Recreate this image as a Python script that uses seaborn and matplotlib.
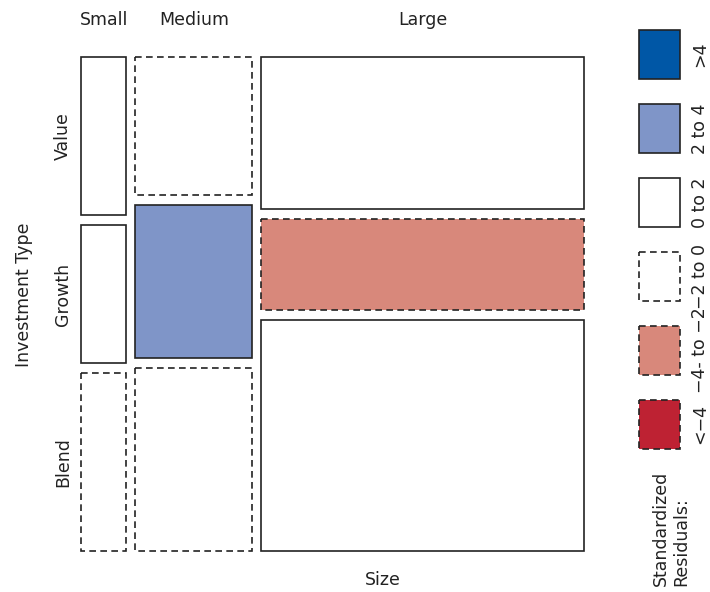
import matplotlib
matplotlib.use("Agg")
import matplotlib.pyplot as plt
import seaborn as sns
from matplotlib.patches import Rectangle

# mosaic data: counts of investment type within each fund size
sizes = ["Small", "Medium", "Large"]
inv_types = ["Value", "Growth", "Blend"]
small_counts = [16, 14, 18]
medium_counts = [36, 40, 48]
large_counts = [110, 65, 167]

# standardized (Pearson) residuals, read from the shading
small_resid = [0.6, 0.7, -0.9]
medium_resid = [-1.3, 2.6, -0.8]
large_resid = [0.5, -2.4, 0.6]

legend_labels = [">4", "2 to 4", "0 to 2", "\u22122 to 0", "\u22124- to \u22122", "<\u22124"]
legend_values = [5, 3, 1, -1, -3, -5]  # a representative residual per legend class

BLUE_DARK = "#0057a6"
BLUE_LIGHT = "#7f95c8"
RED_LIGHT = "#d8887b"
RED_DARK = "#be2233"
DASH = (0, (4.0, 2.6))
LW = 1.2
FS = 12.5


def shade(r):
    if r > 4:
        return BLUE_DARK, "solid"
    if r > 2:
        return BLUE_LIGHT, "solid"
    if r >= 0:
        return "white", "solid"
    if r > -2:
        return "white", DASH
    if r > -4:
        return RED_LIGHT, DASH
    return RED_DARK, DASH


sns.set_theme(style="white")
plt.rcParams["font.family"] = ["DejaVu Sans"]

W, H = 710, 592
fig = plt.figure(figsize=(W / 100, H / 100), dpi=100)


def fx(px):
    return px / W


def fy(py):
    return 1 - py / H


# main mosaic axes
ax = fig.add_axes([fx(81), fy(551), fx(584 - 81), (551 - 57) / H])
ax.set_xlim(0, 1)
ax.set_ylim(1, 0)
ax.axis("off")

gx = 9 / 503
gy = 10 / 494
cols = [small_counts, medium_counts, large_counts]
resids = [small_resid, medium_resid, large_resid]
total = sum(sum(c) for c in cols)

x0 = 0.0
for j, (cnt, res) in enumerate(zip(cols, resids)):
    w = sum(cnt) / total * (1 - gx * (len(cols) - 1))
    y0 = 0.0
    for i, (c, r) in enumerate(zip(cnt, res)):
        h = c / sum(cnt) * (1 - gy * (len(cnt) - 1))
        face, ls = shade(r)
        ax.add_patch(Rectangle((x0, y0), w, h, facecolor=face, edgecolor="#222222",
                               linewidth=LW, linestyle=ls, clip_on=False))
        if j == 0:
            ax.text(-0.036, y0 + h / 2, inv_types[i], rotation=90, ha="center",
                    va="center", fontsize=FS, color="#222222", clip_on=False)
        y0 += h + gy
    ax.text(x0 + w / 2, -0.075, sizes[j], ha="center", va="center",
            fontsize=FS, color="#222222", clip_on=False)
    x0 += w + gx

fig.text(fx(24), fy(295), "Investment Type", rotation=90, ha="center", va="center",
         fontsize=FS, color="#222222")
fig.text(fx(383), fy(580), "Size", ha="center", va="center", fontsize=FS,
         color="#222222")

# legend axes
lax = fig.add_axes([fx(639), fy(449), fx(680 - 639), (449 - 30) / H])
pitch = 74
bh = 49 / pitch
n = len(legend_labels)
lax.set_xlim(0, 1)
lax.set_ylim(n - 1 + bh, 0)
lax.axis("off")
for k, (lab, v) in enumerate(zip(legend_labels, legend_values)):
    face, ls = shade(v)
    lax.add_patch(Rectangle((0, k), 1, bh, facecolor=face, edgecolor="#222222",
                            linewidth=LW, linestyle=ls, clip_on=False))
    lax.text(1.49, k + bh / 2, lab, rotation=90, ha="center", va="center",
             fontsize=FS, color="#222222", clip_on=False)

fig.text(fx(671), fy(586), "Standardized\nResiduals:", rotation=90, ha="center",
         va="bottom", multialignment="left", fontsize=FS, color="#222222")

fig.savefig("out.png", dpi=100)
